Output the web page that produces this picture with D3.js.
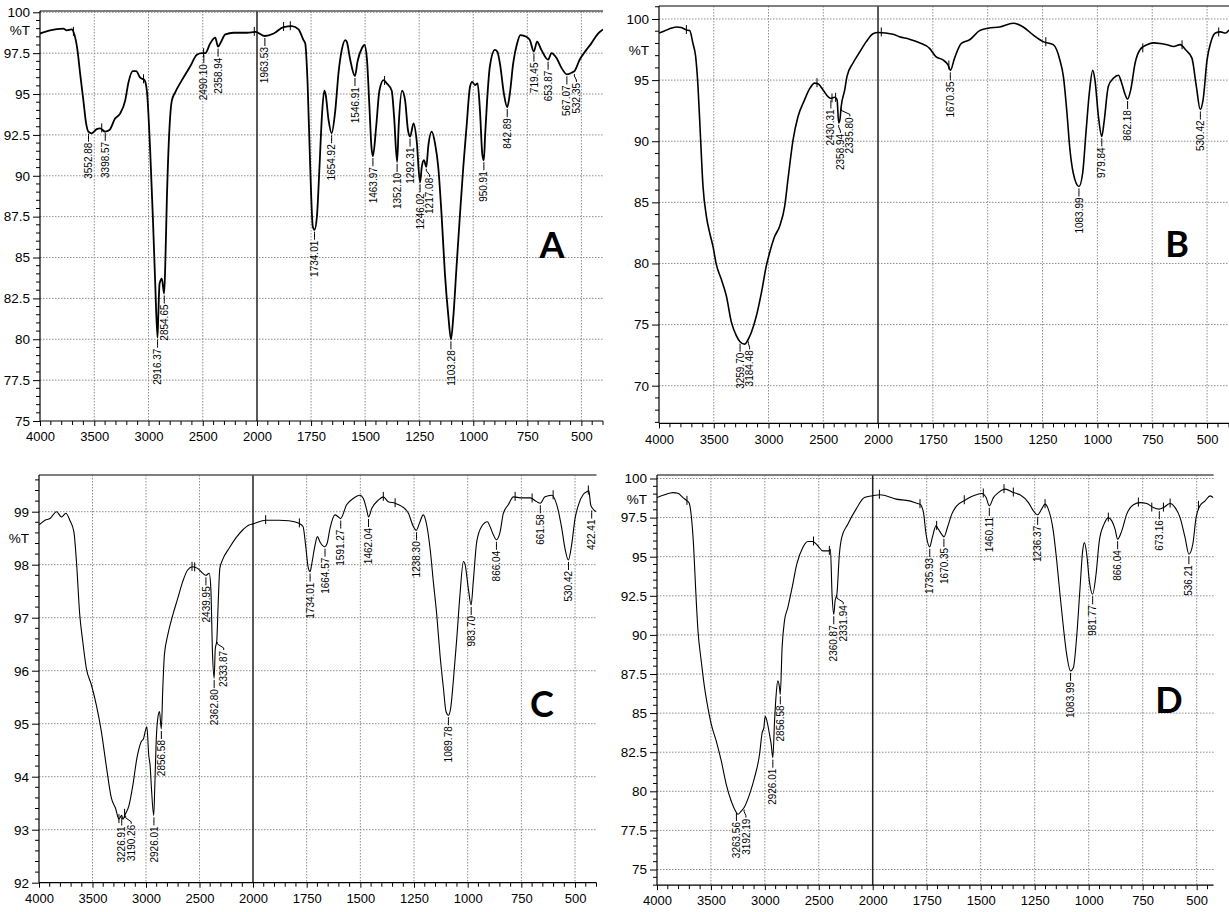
<!DOCTYPE html>
<html>
<head>
<meta charset="utf-8">
<script src="https://cdn.jsdelivr.net/npm/d3@7.9.0/dist/d3.min.js"></script>
<style>
  body { margin: 0; background: #fff; }
  svg { display: block; font-family: "Liberation Sans", Arial, sans-serif; }
</style>
</head>
<body>
<svg id="chart" width="1229" height="912"></svg>
<script>
// wavenumber tick labels (cm-1), shared by the four spectra
const xTickValues = [4000, 3500, 3000, 2500, 2000, 1750, 1500, 1250, 1000, 750, 500];

// %T tick labels per panel
const yTicksA = [75, 77.5, 80, 82.5, 85, 87.5, 90, 92.5, 95, 97.5, 100];
const yTicksB = [70, 75, 80, 85, 90, 95, 100];
const yTicksC = [92, 93, 94, 95, 96, 97, 98, 99];
const yTicksD = [75, 77.5, 80, 82.5, 85, 87.5, 90, 92.5, 95, 97.5, 100];

// spectra, [wavenumber, %T]
const spectrumA = [
  [4000, 98.7], [3908, 98.9], [3785, 99.0], [3754, 98.9], [3708, 98.95], [3686, 98.7], [3655, 97.7],
  [3631, 96.3], [3600, 94.6], [3575, 93.2], [3554, 92.7], [3523, 92.6], [3477, 92.85], [3446, 92.9],
  [3400, 92.7], [3360, 92.8], [3308, 93.5], [3262, 93.8], [3215, 94.6], [3185, 95.7], [3145, 96.4],
  [3114, 96.4], [3077, 96.0], [3037, 95.85], [3015, 95.2], [2985, 91.6], [2960, 87.5], [2938, 83.4],
  [2917, 80.1], [2910, 81.4], [2898, 83.4], [2877, 83.7], [2856, 82.8], [2846, 84.4], [2831, 88.5],
  [2806, 93.0], [2785, 94.6], [2754, 95.1], [2692, 95.85], [2615, 96.7], [2554, 97.4], [2508, 97.5],
  [2477, 97.5], [2431, 98.1], [2385, 98.45], [2359, 97.9], [2338, 98.1], [2292, 98.65], [2215, 98.75],
  [2092, 98.75], [2015, 98.8], [1963, 98.55], [1923, 98.7], [1877, 99.1], [1838, 99.15], [1808, 98.95],
  [1785, 98.3], [1777, 98.1], [1766, 95.65], [1754, 90.55], [1742, 86.9], [1734, 86.7], [1723, 87.5],
  [1711, 90.55], [1700, 93.6], [1689, 95.2], [1683, 95.0], [1669, 93.4], [1655, 92.6], [1638, 94.0],
  [1623, 96.3], [1608, 97.7], [1592, 98.3], [1585, 98.2], [1569, 97.1], [1547, 96.1], [1535, 97.0],
  [1515, 97.8], [1503, 98.0], [1492, 97.2], [1480, 94.2], [1471, 91.8], [1464, 91.2], [1449, 93.0],
  [1434, 95.2], [1415, 95.85], [1400, 95.65], [1377, 95.2], [1366, 93.6], [1352, 90.85], [1345, 93.0],
  [1329, 95.2], [1315, 94.6], [1302, 92.8], [1292, 92.4], [1276, 93.2], [1262, 92.2], [1246, 89.6],
  [1238, 90.55], [1228, 90.95], [1217, 90.55], [1208, 91.8], [1192, 92.7], [1177, 92.0], [1162, 90.55],
  [1146, 87.5], [1131, 84.0], [1115, 81.4], [1103, 80.0], [1092, 81.4], [1077, 84.5], [1062, 87.5],
  [1046, 90.55], [1031, 93.0], [1015, 95.45], [1005, 95.75], [992, 95.55], [980, 95.65], [969, 94.0],
  [958, 91.3], [951, 90.95], [945, 92.5], [936, 94.6], [923, 96.7], [900, 97.7], [889, 97.6],
  [877, 96.9], [858, 95.0], [843, 94.2], [832, 94.9], [815, 96.9], [797, 98.1], [782, 98.6],
  [754, 98.5], [738, 98.3], [720, 97.6], [705, 98.2], [685, 97.7], [654, 97.1], [638, 97.5],
  [615, 97.2], [592, 96.6], [567, 96.2], [546, 96.3], [532, 96.4], [508, 97.1], [477, 97.7],
  [454, 98.1], [423, 98.7], [400, 98.95]
];

const spectrumB = [
  [4000, 98.85], [3918, 99.15], [3842, 99.35], [3796, 99.3], [3750, 99.1], [3720, 99.05], [3690, 98.0],
  [3665, 96.9], [3644, 94.5], [3623, 90.7], [3598, 86.3], [3568, 83.9], [3537, 82.5], [3507, 81.4],
  [3476, 79.9], [3431, 78.7], [3385, 77.35], [3339, 75.2], [3294, 74.1], [3260, 73.6], [3218, 73.4],
  [3185, 73.8], [3157, 74.35], [3111, 75.7], [3065, 77.6], [3020, 79.8], [2989, 80.9], [2944, 82.2],
  [2898, 83.05], [2852, 84.7], [2822, 86.9], [2776, 90.1], [2731, 92.0], [2670, 93.4], [2624, 94.3],
  [2578, 94.75], [2548, 94.7], [2502, 94.2], [2457, 93.65], [2430, 93.5], [2396, 93.6], [2374, 93.4],
  [2359, 91.5], [2348, 91.75], [2336, 92.85], [2304, 94.2], [2283, 95.3], [2228, 96.4], [2167, 97.3],
  [2107, 98.15], [2046, 98.8], [2000, 98.9], [1931, 98.75], [1902, 98.55], [1857, 98.35], [1811, 98.05],
  [1765, 97.6], [1735, 96.9], [1704, 96.65], [1681, 96.25], [1670, 95.8], [1651, 96.8], [1620, 98.0],
  [1582, 98.3], [1537, 99.05], [1498, 99.25], [1445, 99.35], [1384, 99.65], [1338, 99.35], [1293, 98.7],
  [1247, 98.15], [1201, 97.9], [1171, 96.65], [1155, 95.3], [1140, 92.6], [1125, 89.3], [1110, 87.4],
  [1084, 86.3], [1067, 87.4], [1052, 90.7], [1037, 93.9], [1021, 95.8], [1011, 95.0], [995, 92.0],
  [980, 90.4], [970, 91.5], [950, 94.5], [927, 95.15], [904, 95.4], [889, 94.75], [873, 93.8],
  [862, 93.45], [848, 94.2], [828, 96.4], [805, 97.5], [774, 97.9], [744, 98.05], [713, 98.0],
  [683, 97.9], [652, 97.75], [622, 97.9], [599, 97.5], [569, 96.8], [549, 94.5], [531, 92.6],
  [518, 93.4], [500, 96.65], [482, 98.15], [462, 98.85], [439, 98.95], [416, 98.85], [400, 99.1]
];

const spectrumC = [
  [4000, 98.75], [3944, 98.84], [3898, 98.87], [3836, 99.0], [3789, 98.9], [3749, 98.97], [3712, 98.84],
  [3674, 98.62], [3650, 98.06], [3619, 97.05], [3594, 96.6], [3557, 96.04], [3510, 95.73], [3464, 95.35],
  [3417, 94.85], [3371, 94.2], [3324, 93.6], [3284, 93.4], [3253, 93.2], [3227, 93.27], [3216, 93.2],
  [3191, 93.3], [3160, 93.45], [3122, 93.85], [3085, 94.35], [3045, 94.66], [3023, 94.72], [3008, 94.85],
  [2992, 94.94], [2974, 94.4], [2961, 94.2], [2949, 93.78], [2928, 93.27], [2918, 93.8], [2905, 94.66],
  [2890, 95.1], [2874, 95.23], [2857, 94.9], [2843, 95.67], [2828, 96.3], [2797, 96.67], [2750, 97.05],
  [2704, 97.36], [2657, 97.68], [2611, 97.9], [2564, 97.96], [2518, 97.93], [2471, 97.84], [2440, 97.8],
  [2409, 97.84], [2394, 97.55], [2378, 96.3], [2363, 95.86], [2353, 96.4], [2338, 96.58], [2326, 97.24],
  [2310, 97.93], [2285, 98.09], [2223, 98.31], [2161, 98.5], [2099, 98.65], [2037, 98.75], [2000, 98.77],
  [1941, 98.84], [1879, 98.84], [1833, 98.83], [1786, 98.78], [1767, 98.72], [1755, 98.37], [1743, 97.95],
  [1734, 97.87], [1727, 98.0], [1711, 98.37], [1700, 98.53], [1688, 98.43], [1665, 98.34], [1655, 98.4],
  [1641, 98.69], [1618, 98.94], [1602, 98.9], [1592, 98.87], [1564, 99.13], [1533, 99.25], [1502, 99.31],
  [1486, 99.25], [1470, 99.03], [1462, 98.9], [1447, 99.06], [1416, 99.22], [1393, 99.28], [1370, 99.19],
  [1338, 99.16], [1307, 99.1], [1276, 98.97], [1253, 98.72], [1239, 98.65], [1225, 98.78], [1207, 98.94],
  [1194, 98.81], [1175, 98.3], [1160, 97.68], [1144, 97.05], [1129, 96.3], [1113, 95.67], [1101, 95.23],
  [1090, 95.16], [1079, 95.3], [1067, 95.8], [1051, 96.6], [1036, 97.43], [1020, 98.06], [1012, 98.0],
  [997, 97.55], [984, 97.24], [974, 97.68], [958, 98.43], [935, 98.72], [908, 98.81], [896, 98.72],
  [880, 98.56], [866, 98.47], [849, 98.62], [834, 98.97], [811, 99.13], [787, 99.28], [748, 99.26],
  [709, 99.26], [679, 99.19], [662, 99.16], [640, 99.28], [609, 99.31], [585, 99.13], [562, 98.69],
  [547, 98.31], [531, 98.09], [516, 98.37], [500, 98.87], [484, 99.13], [461, 99.33], [443, 99.38],
  [436, 99.4], [427, 99.13], [418, 99.06], [400, 99.0]
];

const spectrumD = [
  [4000, 98.78], [3929, 98.96], [3852, 99.1], [3806, 99.06], [3759, 98.78], [3722, 98.57], [3704, 98.46],
  [3682, 97.6], [3660, 95.6], [3642, 93.0], [3620, 90.26], [3590, 88.34], [3559, 86.63], [3528, 85.35],
  [3497, 84.29], [3451, 83.22], [3404, 81.94], [3358, 80.45], [3312, 79.38], [3272, 78.74], [3250, 78.53],
  [3219, 78.74], [3192, 78.96], [3142, 79.8], [3096, 80.87], [3049, 82.37], [3025, 83.75], [3009, 84.07],
  [2997, 84.8], [2981, 84.5], [2957, 83.65], [2941, 83.0], [2926, 82.15], [2910, 84.5], [2895, 86.2],
  [2880, 87.06], [2864, 86.63], [2857, 86.2], [2840, 89.19], [2818, 90.9], [2787, 91.75], [2747, 93.03],
  [2704, 94.52], [2648, 95.59], [2602, 95.97], [2556, 95.97], [2509, 95.7], [2463, 95.37], [2407, 95.37],
  [2392, 95.48], [2377, 92.6], [2361, 91.32], [2349, 92.17], [2332, 92.6], [2309, 95.16], [2287, 96.23],
  [2231, 97.08], [2154, 98.04], [2077, 98.78], [2000, 98.9], [1966, 98.96], [1892, 98.68], [1830, 98.57],
  [1792, 98.4], [1781, 98.36], [1765, 97.83], [1753, 96.44], [1736, 95.63], [1724, 96.23], [1707, 96.97],
  [1696, 96.76], [1681, 96.44], [1670, 96.27], [1654, 96.87], [1634, 97.72], [1611, 98.25], [1573, 98.61],
  [1534, 98.89], [1495, 99.04], [1475, 98.78], [1460, 98.25], [1441, 98.78], [1418, 99.1], [1387, 99.32],
  [1349, 99.1], [1318, 98.96], [1279, 98.46], [1256, 97.93], [1237, 97.68], [1218, 98.04], [1202, 98.36],
  [1187, 98.04], [1164, 96.65], [1148, 94.73], [1133, 92.6], [1117, 90.47], [1102, 88.76], [1084, 87.7],
  [1071, 87.9], [1056, 89.83], [1040, 93.03], [1028, 95.37], [1020, 95.9], [1009, 95.16], [997, 93.45],
  [982, 92.6], [966, 93.88], [951, 96.0], [929, 97.08], [909, 97.5], [893, 97.29], [878, 96.76],
  [866, 96.12], [847, 96.65], [824, 97.72], [793, 98.32], [762, 98.46], [731, 98.4], [701, 98.14],
  [673, 98.04], [654, 98.14], [623, 98.4], [600, 98.14], [577, 97.5], [554, 96.23], [536, 95.16],
  [518, 95.8], [503, 97.5], [485, 98.25], [461, 98.57], [438, 98.89], [423, 98.78]
];

// labelled peaks, [wavenumber, %T at the peak]
const peaksA = [
  [3552.88, 92.7], [3398.57, 92.75], [2916.37, 80.1], [2854.65, 82.8], [2490.10, 97.5], [2358.94, 97.9],
  [1963.53, 98.55], [1734.01, 86.7], [1654.92, 92.6], [1546.91, 96.1], [1463.97, 91.2], [1352.10, 90.85],
  [1292.31, 92.4], [1246.02, 89.6], [1217.08, 90.55], [1103.28, 80.0], [950.91, 90.95], [842.89, 94.2],
  [719.45, 97.6], [653.87, 97.1], [567.07, 96.2], [532.35, 96.35]
];
const peaksB = [
  [3259.70, 73.6], [3184.48, 73.8], [2430.31, 93.5], [2358.94, 91.5], [2335.80, 92.85], [1670.35, 95.8],
  [1083.99, 86.3], [979.84, 90.4], [862.18, 93.45], [530.42, 92.6]
];
const peaksC = [
  [3226.91, 93.27], [3190.26, 93.3], [2926.01, 93.27], [2856.58, 94.9], [2439.95, 97.8], [2362.80, 95.86],
  [2333.87, 96.58], [1734.01, 97.87], [1664.57, 98.34], [1591.27, 98.87], [1462.04, 98.9], [1238.30, 98.65],
  [1089.78, 95.16], [983.70, 97.24], [866.04, 98.47], [661.58, 99.16], [530.42, 98.09], [422.41, 99.06]
];
const peaksD = [
  [3263.56, 78.74], [3192.19, 78.96], [2926.01, 82.15], [2856.58, 86.2], [2360.87, 91.32], [2331.94, 92.6],
  [1735.93, 95.63], [1670.35, 96.27], [1460.11, 98.25], [1236.37, 97.68], [1083.99, 87.7], [981.77, 92.6],
  [866.04, 96.12], [673.16, 98.04], [536.21, 95.16]
];

// small unlabelled peak markers on the traces, [wavenumber, %T]
const marksA = [[3692, 98.8], [3431, 92.9], [3046, 95.9], [2492, 97.5], [2025, 98.8], [1877, 99.1], [1846, 99.15], [1410, 95.8]];
const marksB = [[3750, 99.1], [2557, 94.75], [2420, 93.5], [2387, 93.55], [1985, 98.9], [1677, 96.2], [1235, 98.1], [793, 97.6], [614, 97.85], [447, 98.9]];
const marksC = [[3253, 93.2], [3200, 93.3], [2570, 97.96], [2545, 97.95], [1941, 98.84], [1784, 98.78], [1393, 99.28], [1338, 99.16], [779, 99.28], [700, 99.25], [602, 99.31], [438, 99.4]];
const marksD = [[3722, 98.57], [2549, 95.97], [2402, 95.37], [1969, 98.96], [1781, 98.36], [1704, 96.97], [1576, 98.61], [1488, 99.04], [1392, 99.32], [1349, 99.1], [1202, 98.36], [909, 97.5], [770, 98.46], [708, 98.14], [654, 98.14], [623, 98.4], [492, 98.25]];

// layout of the four panels (pixels)
const panels = [
  { name: 'A', spectrum: spectrumA, peaks: peaksA, marks: marksA, yTicks: yTicksA,
    yMinor: d3.range(75, 100.01, 0.5), xr: [40, 257, 603], xEnd: 603, yd: [75, 100], yr: [421, 12.3],
    yBottom: 75, top: 11, pctY: 35, letter: [552, 258], lw: 1.8 },
  { name: 'B', spectrum: spectrumB, peaks: peaksB, marks: marksB, yTicks: yTicksB,
    yMinor: d3.range(67, 101.01, 1), xr: [659, 878, 1229], xEnd: 1229, yd: [70, 100], yr: [385.7, 19],
    yBottom: 66.92, top: 6, pctY: 55, letter: [1177, 257], lw: 1.6 },
  { name: 'C', spectrum: spectrumC, peaks: peaksC, marks: marksC, yTicks: yTicksC,
    yMinor: d3.range(92, 99.61, 0.2), xr: [39, 253, 596.5], xEnd: 596.5, yd: [92, 99], yr: [882.7, 511.7],
    yBottom: 92, top: 475, pctY: 543, letter: [542, 717], lw: 1.1 },
  { name: 'D', spectrum: spectrumD, peaks: peaksD, marks: marksD, yTicks: yTicksD,
    yMinor: d3.range(74, 100.01, 0.5), xr: [657, 872.7, 1218.3], xEnd: 1213.6, yd: [75, 100], yr: [869.5, 478.5],
    yBottom: 74, top: 475, pctY: 504, letter: [1169, 713], lw: 1.1 }
];

const svg = d3.select('#chart');
const FONT = '"Liberation Sans", Arial, sans-serif';
const LABEL_SIZE = 10;
const LABEL_GAP = 9.5; // minimum spacing of neighbouring peak labels

// push a label right when it would collide with its left neighbour
function placeLabels(peaks, x, y) {
  const items = peaks
    .map((d) => {
      const px = x(d[0]);
      const py = y(d[1]);
      const len = d[0].toFixed(2).length * LABEL_SIZE * 0.56;
      return { d, px, py, lx: px, top: py + 11, bottom: py + 11 + len };
    })
    .sort((a, b) => a.px - b.px);

  items.forEach((it, i) => {
    for (let j = i - 1; j >= 0; j -= 1) {
      const prev = items[j];
      const overlaps = it.top < prev.bottom + 4 && prev.top < it.bottom + 4;
      if (overlaps && it.lx - prev.lx < LABEL_GAP) {
        it.lx = prev.lx + LABEL_GAP;
      }
    }
  });
  return items;
}

function drawPanel(p) {
  const x = d3.scaleLinear().domain([4000, 2000, 400]).range(p.xr);
  const y = d3.scaleLinear().domain(p.yd).range(p.yr);
  const left = p.xr[0];
  const right = p.xEnd;
  const bottom = y(p.yBottom);
  const wnEnd = x.invert(right);

  const g = svg.append('g');
  const clipId = 'clip' + p.name;
  svg.append('clipPath').attr('id', clipId)
    .append('rect')
    .attr('x', left).attr('y', p.top)
    .attr('width', right - left).attr('height', bottom - p.top);

  // dotted grid
  g.append('g').selectAll('line')
    .data(p.yTicks.filter((v) => v !== p.yBottom))
    .join('line')
    .attr('x1', left).attr('x2', right)
    .attr('y1', (d) => y(d)).attr('y2', (d) => y(d))
    .attr('stroke', '#8c8c8c').attr('stroke-dasharray', '1.5,1.5');

  g.append('g').selectAll('line')
    .data(xTickValues.filter((v) => v !== 4000 && v !== 2000))
    .join('line')
    .attr('x1', (d) => x(d)).attr('x2', (d) => x(d))
    .attr('y1', p.top).attr('y2', bottom)
    .attr('stroke', '#8c8c8c').attr('stroke-dasharray', '1.5,1.5');

  // scale break at 2000
  g.append('line')
    .attr('x1', x(2000)).attr('x2', x(2000))
    .attr('y1', p.top).attr('y2', bottom)
    .attr('stroke', '#222').attr('stroke-width', 1.5);

  // top frame
  g.append('line')
    .attr('x1', left).attr('x2', right)
    .attr('y1', p.top).attr('y2', p.top)
    .attr('stroke', '#555').attr('stroke-width', 1.3);

  // trace
  const line = d3.line()
    .x((d) => x(d[0]))
    .y((d) => y(d[1]))
    .curve(d3.curveMonotoneX);

  const plot = g.append('g').attr('clip-path', `url(#${clipId})`);
  plot.append('path')
    .datum(p.spectrum)
    .attr('d', line)
    .attr('fill', 'none')
    .attr('stroke', '#000')
    .attr('stroke-width', p.lw)
    .attr('stroke-linejoin', 'round');

  plot.append('g').selectAll('line')
    .data(p.marks)
    .join('line')
    .attr('x1', (d) => x(d[0])).attr('x2', (d) => x(d[0]))
    .attr('y1', (d) => y(d[1]) - 5).attr('y2', (d) => y(d[1]) + 4)
    .attr('stroke', '#000').attr('stroke-width', 1);

  // peak labels
  const labels = plot.append('g').selectAll('g')
    .data(placeLabels(p.peaks, x, y))
    .join('g');

  labels.append('path')
    .attr('d', (it) => `M${it.px},${it.py + 2}L${it.px},${it.py + 4}L${it.lx},${it.py + 8}L${it.lx},${it.py + 10}`)
    .attr('fill', 'none')
    .attr('stroke', '#000').attr('stroke-width', 1);

  labels.append('text')
    .attr('transform', (it) => `translate(${it.lx + 3.6},${it.top}) rotate(-90)`)
    .attr('text-anchor', 'end')
    .attr('font-family', FONT)
    .attr('font-size', LABEL_SIZE)
    .attr('fill', '#000')
    .text((it) => it.d[0].toFixed(2));

  // x axis
  const xAxis = d3.axisBottom(x)
    .tickValues(xTickValues)
    .tickFormat((d) => String(d))
    .tickSize(5)
    .tickPadding(6)
    .tickSizeOuter(0);
  const ax = g.append('g').attr('transform', `translate(0,${bottom})`).call(xAxis);
  ax.select('.domain').remove();
  ax.selectAll('text').attr('font-size', 13).attr('font-family', FONT).attr('fill', '#000');

  const minorX = d3.range(3900, 2000, -100)
    .concat(d3.range(1950, 399, -50))
    .filter((v) => !xTickValues.includes(v) && v >= wnEnd);
  g.append('g').selectAll('line')
    .data(minorX)
    .join('line')
    .attr('x1', (d) => x(d)).attr('x2', (d) => x(d))
    .attr('y1', bottom).attr('y2', bottom + 4)
    .attr('stroke', '#000');

  g.append('line')
    .attr('x1', left).attr('x2', right)
    .attr('y1', bottom).attr('y2', bottom)
    .attr('stroke', '#000').attr('stroke-width', 1.2);

  // y axis
  const yAxis = d3.axisLeft(y)
    .tickValues(p.yTicks)
    .tickSize(7)
    .tickPadding(3)
    .tickSizeOuter(0)
    .tickFormat((d) => String(d));
  const ay = g.append('g').attr('transform', `translate(${left},0)`).call(yAxis);
  ay.select('.domain').remove();
  ay.selectAll('text').attr('font-size', 13.5).attr('font-family', FONT).attr('fill', '#000');

  g.append('g').selectAll('line')
    .data(p.yMinor.filter((v) => !p.yTicks.includes(+v.toFixed(2))))
    .join('line')
    .attr('x1', left - 4).attr('x2', left)
    .attr('y1', (d) => y(d)).attr('y2', (d) => y(d))
    .attr('stroke', '#000');

  g.append('line')
    .attr('x1', left).attr('x2', left)
    .attr('y1', p.top).attr('y2', bottom)
    .attr('stroke', '#000').attr('stroke-width', 1.2);

  g.append('text')
    .attr('x', left - 10).attr('y', p.pctY)
    .attr('text-anchor', 'end')
    .attr('font-family', FONT)
    .attr('font-size', 13.5)
    .text('%T');

  // panel letter
  g.append('text')
    .attr('x', p.letter[0]).attr('y', p.letter[1])
    .attr('text-anchor', 'middle')
    .attr('font-family', 'Lato, "Open Sans", sans-serif')
    .attr('font-weight', 'bold')
    .attr('font-size', 36)
    .text(p.name);
}

panels.forEach(drawPanel);
</script>
</body>
</html>
